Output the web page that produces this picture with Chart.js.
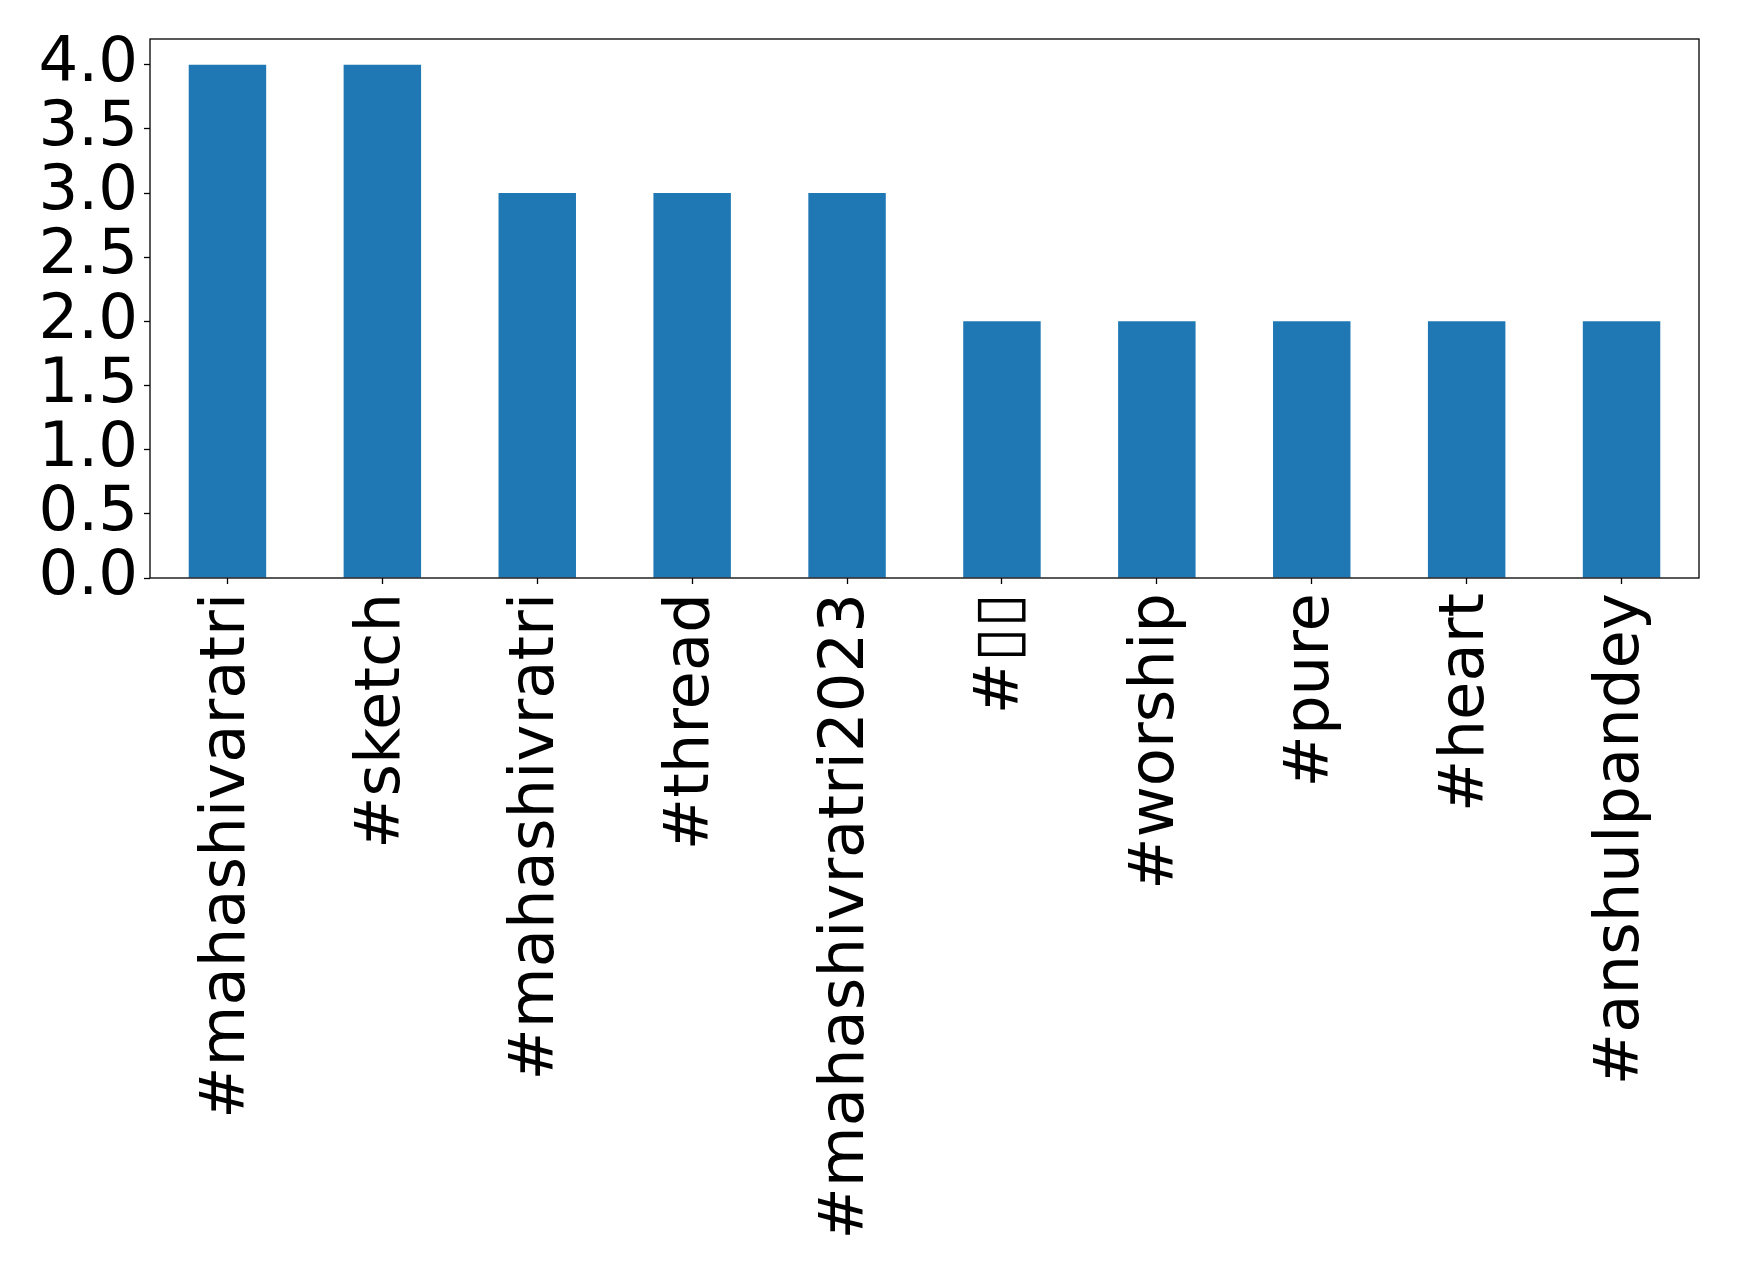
<!DOCTYPE html>
<html>
<head>
<meta charset="utf-8">
<script src="https://cdn.jsdelivr.net/npm/chart.js@4/dist/chart.umd.min.js"></script>
<style>
  html, body { margin: 0; padding: 0; background: #fff; }
  #wrap { width: 1739px; height: 1274px; }
</style>
</head>
<body>
<div id="wrap"><canvas id="tagChart" width="1739" height="1274"></canvas></div>
<script>
// hashtag counts
const hashtags = [
    "#mahashivaratri",
    "#sketch",
    "#mahashivratri",
    "#thread",
    "#mahashivratri2023",
    "#\u25AF\u25AF",
    "#worship",
    "#pure",
    "#heart",
    "#anshulpandey",
];
const counts = [4, 4, 3, 3, 3, 2, 2, 2, 2, 2];
const yTicks = [0, 0.5, 1, 1.5, 2, 2.5, 3, 3.5, 4];

const FONT = "'DejaVu Sans', sans-serif";

// chart.js only draws left/bottom borders, matplotlib boxes the whole axes
const frameBox = {
    id: "frameBox",
    afterDraw(chart) {
        const { ctx, chartArea } = chart;
        ctx.save();
        ctx.strokeStyle = "#000";
        ctx.lineWidth = 1.3;
        ctx.strokeRect(chartArea.left, chartArea.top,
            chartArea.right - chartArea.left, chartArea.bottom - chartArea.top);
        ctx.restore();
    },
};

function initChart() {
    const ctx = document.getElementById("tagChart").getContext("2d");
    return new Chart(ctx, {
        type: "bar",
        data: {
            labels: hashtags,
            datasets: [
                {
                    data: counts,
                    backgroundColor: "#1f77b4",
                    borderWidth: 0,
                    categoryPercentage: 1.0,
                    barPercentage: 0.5,
                },
            ],
        },
        options: {
            responsive: false,
            animation: false,
            devicePixelRatio: 1,
            layout: { padding: { left: 0, top: 39, right: 40, bottom: 0 } },
            plugins: {
                legend: { display: false },
                tooltip: { enabled: false },
            },
            scales: {
                x: {
                    afterFit: (scale) => {
                        scale.height = 696;
                        scale.paddingLeft = 0;
                        scale.paddingRight = 0;
                    },
                    grid: {
                        offset: false,
                        drawOnChartArea: false,
                        tickLength: 6,
                        tickColor: "#000",
                        tickWidth: 1.3,
                    },
                    border: { display: false },
                    ticks: {
                        minRotation: 90,
                        maxRotation: 90,
                        autoSkip: false,
                        padding: 9,
                        color: "#000",
                        font: { family: FONT, size: 62.5 },
                    },
                },
                y: {
                    min: 0,
                    max: 4.2,
                    afterFit: (scale) => {
                        scale.width = 150;
                        scale.paddingTop = 0;
                        scale.paddingBottom = 0;
                    },
                    afterBuildTicks: (scale) => {
                        scale.ticks = yTicks.map((v) => ({ value: v }));
                    },
                    grid: {
                        drawOnChartArea: false,
                        tickLength: 6,
                        tickColor: "#000",
                        tickWidth: 1.3,
                    },
                    border: { display: false },
                    ticks: {
                        autoSkip: false,
                        padding: 6,
                        color: "#000",
                        font: { family: FONT, size: 62.5 },
                        callback: (v) => Number(v).toFixed(1),
                    },
                },
            },
        },
        plugins: [frameBox],
    });
}

initChart();
</script>
</body>
</html>
